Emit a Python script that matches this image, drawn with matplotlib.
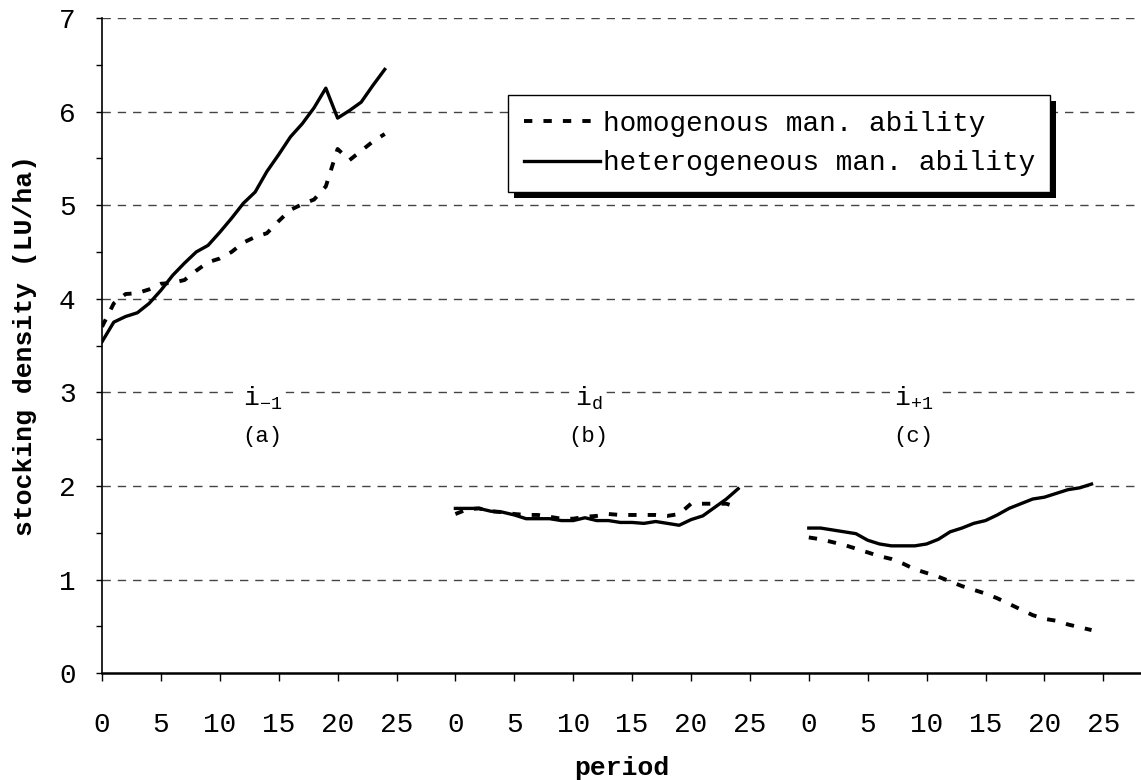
import numpy as np
import matplotlib
matplotlib.use('Agg')
import matplotlib.pyplot as plt
from matplotlib.patches import Rectangle
from matplotlib.transforms import IdentityTransform

plt.rcParams['font.family'] = ['Liberation Mono', 'DejaVu Sans Mono']
plt.rcParams['mathtext.fontset'] = 'custom'
plt.rcParams['mathtext.rm'] = 'Liberation Mono'
plt.rcParams['mathtext.it'] = 'Liberation Mono'
plt.rcParams['lines.scale_dashes'] = False

# periods 0..24 for each of the three panels
periods = np.arange(25)

# (a) i-1
homo_a = [3.70, 3.95, 4.05, 4.06, 4.10, 4.16, 4.17, 4.20, 4.30, 4.39,
          4.43, 4.50, 4.60, 4.66, 4.70, 4.83, 4.95, 5.01, 5.06, 5.20,
          5.60, 5.48, 5.58, 5.68, 5.76]
hetero_a = [3.54, 3.75, 3.81, 3.85, 3.95, 4.09, 4.25, 4.38, 4.50, 4.57,
            4.71, 4.86, 5.02, 5.14, 5.36, 5.54, 5.73, 5.87, 6.04, 6.25,
            5.93, 6.01, 6.10, 6.28, 6.45]

# (b) id
homo_b = [1.70, 1.75, 1.76, 1.73, 1.72, 1.70, 1.69, 1.69, 1.67, 1.65,
          1.65, 1.67, 1.68, 1.70, 1.69, 1.69, 1.69, 1.69, 1.68, 1.70,
          1.81, 1.81, 1.81, 1.81, 1.77]
hetero_b = [1.76, 1.76, 1.76, 1.73, 1.72, 1.69, 1.65, 1.65, 1.65, 1.63,
            1.63, 1.66, 1.63, 1.63, 1.61, 1.61, 1.60, 1.62, 1.60, 1.58,
            1.64, 1.68, 1.77, 1.86, 1.97]

# (c) i+1
homo_c = [1.45, 1.43, 1.40, 1.37, 1.33, 1.29, 1.25, 1.22, 1.17, 1.11,
          1.07, 1.03, 0.98, 0.93, 0.89, 0.85, 0.80, 0.74, 0.68, 0.62,
          0.58, 0.56, 0.52, 0.49, 0.46]
hetero_c = [1.55, 1.55, 1.53, 1.51, 1.49, 1.42, 1.38, 1.36, 1.36, 1.36,
            1.38, 1.43, 1.51, 1.55, 1.60, 1.63, 1.69, 1.76, 1.81, 1.86,
            1.88, 1.92, 1.96, 1.98, 2.02]

panel_labels = [r'$\mathregular{i_{-1}}$', r'$\mathregular{i_{d}}$', r'$\mathregular{i_{+1}}$']
panel_tags = ['(a)', '(b)', '(c)']
tick_labels = ['0', '5', '10', '15', '20', '25']

offset = 30  # each panel shifted along the shared axis

fig = plt.figure(figsize=(11.41, 7.8), dpi=100)
ax = fig.add_axes([0.0894, 0.137, 0.9106, 0.840])

dash = (0, (6, 8))
homos = [homo_a, homo_b, homo_c]
heteros = [hetero_a, hetero_b, hetero_c]
for k in range(3):
    x = periods + k * offset
    ax.plot(x, homos[k], color='black', lw=2.8, linestyle=dash,
            label='homogenous man. ability' if k == 0 else None)
    ax.plot(x, heteros[k], color='black', lw=2.4,
            label='heterogeneous man. ability' if k == 0 else None)

label_x = [13.6, 41.3, 68.9]
for k in range(3):
    ax.text(label_x[k], 2.93, panel_labels[k], ha='center', va='center', fontsize=19,
            bbox=dict(facecolor='white', edgecolor='none', pad=2), zorder=3)
    ax.text(label_x[k], 2.53, panel_tags[k], ha='center', va='center', fontsize=16, zorder=3)

ax.set_xlim(0, 88.2)
ax.set_ylim(0, 7)
xt = [k * offset + v for k in range(3) for v in range(0, 30, 5)]
ax.set_xticks(xt)
ax.set_xticklabels(tick_labels * 3)
ax.set_yticks(range(8))
ax.set_yticks(np.arange(0.5, 7, 1.0), minor=True)
ax.tick_params(axis='x', direction='out', length=6, width=1, pad=22, labelsize=20)
ax.tick_params(axis='y', which='major', direction='out', length=4, width=1, pad=15, labelsize=20)
ax.tick_params(axis='y', which='minor', direction='out', length=4, width=1)

for y in range(1, 8):
    ax.axhline(y, color='#444444', lw=1, linestyle=(0, (6, 5)), zorder=0)

ax.spines['top'].set_visible(False)
ax.spines['right'].set_visible(False)
ax.spines['bottom'].set_linewidth(1.8)
ax.spines['left'].set_linewidth(1.2)

ax.set_xlabel('period', fontsize=19, fontweight='bold', labelpad=13)
ax.set_ylabel('stocking density (LU/ha)', fontsize=19, fontweight='bold', labelpad=16)

leg = ax.legend(loc='upper left', bbox_to_anchor=(0.391, 0.882), fontsize=20,
                frameon=True, fancybox=False, framealpha=1, facecolor='white',
                handlelength=2.75, handletextpad=0.1,
                borderpad=0.55, labelspacing=0.5, borderaxespad=0)
leg.get_frame().set_edgecolor('black')
leg.get_frame().set_linewidth(1)
leg.set_zorder(6)

fig.canvas.draw()
bb = leg.get_window_extent()
sh = 6
ax.add_patch(Rectangle((bb.x0 + sh, bb.y0 - sh), bb.width, bb.height,
                       transform=IdentityTransform(), facecolor='black',
                       edgecolor='none', zorder=5))
fig.savefig('out.png', dpi=100)
